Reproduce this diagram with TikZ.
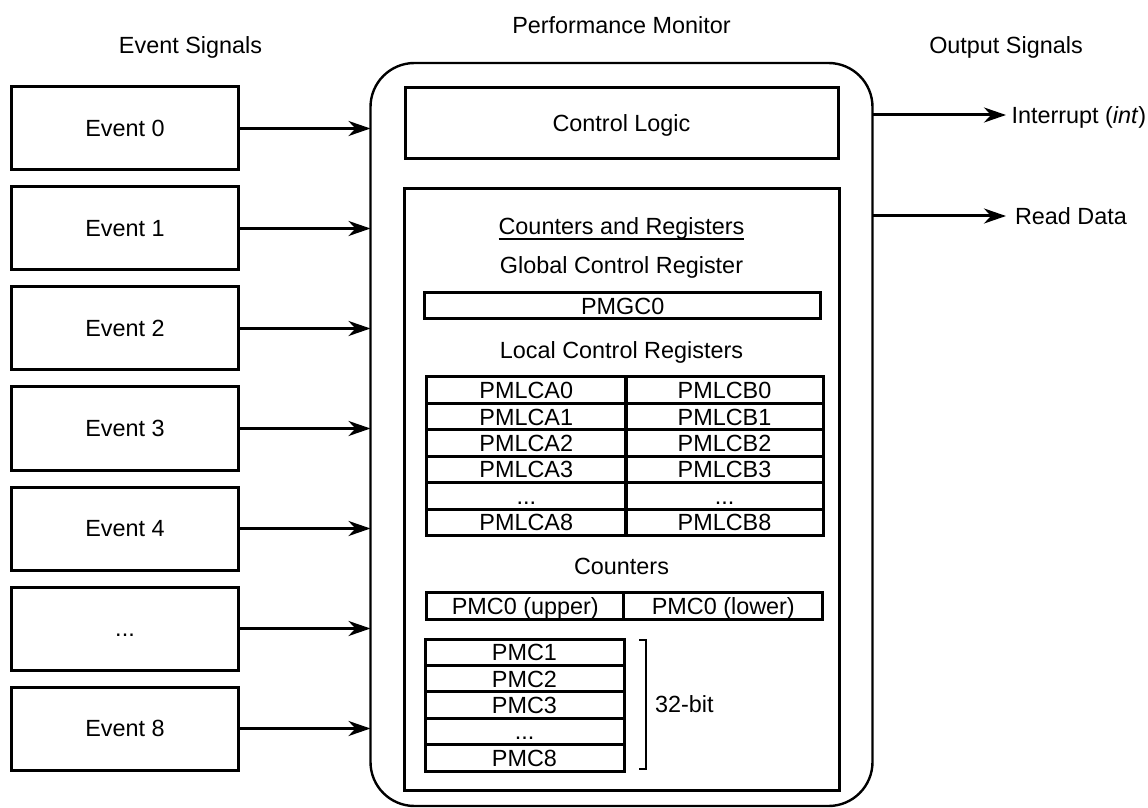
\documentclass[tikz,border=0pt]{standalone}
\usepackage{fontspec}
\setmainfont{Liberation Sans}
\usetikzlibrary{arrows.meta}
\newcommand{\tdd}{.\kern0pt.\kern0pt.}
\begin{document}
\begin{tikzpicture}[x=0.5pt,y=-0.5pt,
  every node/.style={font=\fontsize{11.7}{14}\selectfont, inner sep=0pt, outer sep=0pt,
    text height=8.4pt, text depth=0pt},
  box/.style={draw, line width=1.5pt},
  evbox/.style={box, minimum width=113.5pt, minimum height=41.5pt},
  cell/.style={box, minimum height=13.2pt},
  arr/.style={line width=1.5pt, -{Stealth[length=11pt,width=7.5pt,inset=3.5pt]}},
  lbl/.style={}]
\useasboundingbox (0,0) rectangle (1148,808);

% titles
\node[lbl] (tEv) at (190.5,45) {Event Signals};
\node[lbl] (tPM) at (621.5,25.5) {Performance Monitor};
\node[lbl] (tOut) at (1006,45) {Output Signals};

% event boxes
\node[evbox] (e0) at (125,128.5) {Event 0};
\node[evbox] (e1) at (125,228.5) {Event 1};
\node[evbox] (e2) at (125,328.5) {Event 2};
\node[evbox] (e3) at (125,428.5) {Event 3};
\node[evbox] (e4) at (125,528.5) {Event 4};
\node[evbox] (e5) at (125,628.5) {\tdd};
\node[evbox] (e8) at (125,728.5) {Event 8};

% performance monitor outer box
\node[draw, line width=1.2pt, rounded corners=22pt, minimum width=251pt, minimum height=371.5pt] (pm) at (621.5,434.5) {};

% control logic
\node[box, minimum width=216.5pt, minimum height=35.5pt] (cl) at (621.5,123.5) {Control Logic};

% counters and registers box
\node[box, minimum width=217.5pt, minimum height=300.5pt] (cr) at (621.5,489.5) {};

% input arrows
\foreach \e in {e0,e1,e2,e3,e4,e5,e8}
  \draw[arr] (\e.east) -- (\e.east -| pm.west);

% output arrows
\coordinate (intEnd) at (1006,115);
\coordinate (rdEnd) at (1006,216);
\draw[arr] (intEnd -| pm.east) -- (intEnd);
\draw[arr] (rdEnd -| pm.east) -- (rdEnd);
\node[anchor=west] (intL) at (1011.5,115) {Interrupt (\textit{int})};
\node[anchor=west] (rdL) at (1015,216) {Read Data};

% inner headings
\node (hCR) at (621.5,226) {Counters and Registers};
\draw[line width=0.75pt] ([yshift=-2.2pt]hCR.south west) -- ([yshift=-2.2pt]hCR.south east);
\node (hGC) at (621.5,265) {Global Control Register};
\node[cell, minimum width=198pt, minimum height=13pt] (gc0) at (622.7,306) {PMGC0};
\node (hLC) at (621.5,350) {Local Control Registers};

% local control table
\foreach \r/\a/\b/\y in {0/PMLCA0/PMLCB0/390.2, 1/PMLCA1/PMLCB1/416.6, 2/PMLCA2/PMLCB2/443,
                         3/PMLCA3/PMLCB3/469.4, 4/\tdd/\tdd/495.8, 5/PMLCA8/PMLCB8/522.2} {
  \node[cell, minimum width=99.65pt] (la\r) at (526.3,\y) {\a};
  \node[cell, minimum width=98.5pt] (lb\r) at (724.5,\y) {\b};
}

\node (hC) at (621.5,566) {Counters};
\node[cell, minimum width=98.65pt] (pmc0u) at (525.3,606) {PMC0 (upper)};
\node[cell, minimum width=99.35pt] (pmc0l) at (723.3,606) {PMC0 (lower)};

\foreach \r/\t/\y in {1/PMC1/652.2, 2/PMC2/678.6, 3/PMC3/705, 4/\tdd/731.4, 8/PMC8/757.8}
  \node[cell, minimum width=99.5pt] (pmc\r) at (524.5,\y) {\t};

% bracket
\draw[line width=1pt] (639,640) -- (646,640) -- (646,769) -- (639,769);
\node[anchor=west] (b32) at (655,704) {32-bit};
\end{tikzpicture}
\end{document}
